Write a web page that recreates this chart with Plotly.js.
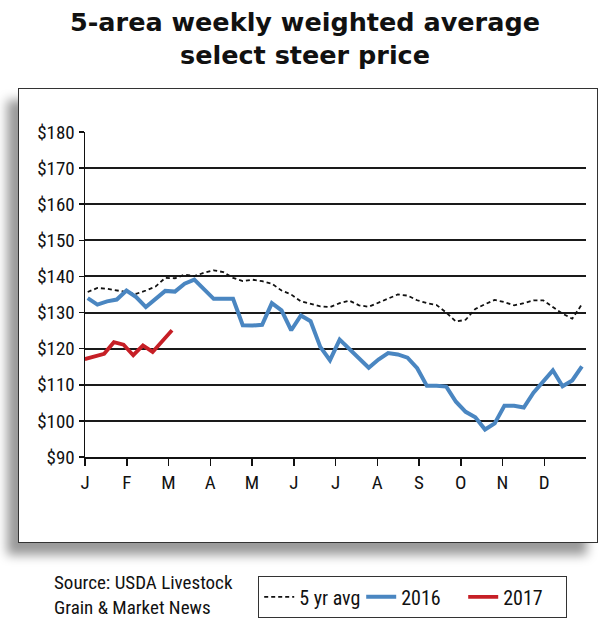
<!DOCTYPE html>
<html>
<head>
<meta charset="utf-8">
<script src="https://cdn.plot.ly/plotly-3.0.1.min.js"></script>
<style>
  html, body { margin: 0; padding: 0; background: #fff; }
  #frame { position: absolute; left: 18px; top: 88px; width: 578px; height: 453px;
           border: 1.5px solid #333; background: #fff;
           box-shadow: -11px 12px 10px rgba(0,0,0,0.4); }
  #chart { position: absolute; left: 0; top: 0; width: 610px; height: 630px; }
</style>
</head>
<body>
<div id="frame"></div>
<div id="chart"></div>
<script>
// Week numbers (2016 weekly observations)
const weeks2016 = [1,2,3,4,5,6,7,8,9,10,11,12,13,14,15,16,17,18,19,20,21,22,23,24,25,26,
                   27,28,29,30,31,32,33,34,35,36,37,38,39,40,41,42,43,44,45,46,47,48,49,50,51,52];
const weeks2017 = [0.7,1.7,2.7,3.7,4.7,5.7,6.7,7.7,8.7,9.7];

// 5-year average ($/cwt)
const avg5yr = [135.7,136.8,136.6,136.1,135.7,135.2,136.1,137.2,139.6,139.5,140.5,140.1,141.0,141.7,141.2,139.6,
                138.7,139.1,138.7,138.0,136.1,135.0,133.1,132.4,131.7,131.5,132.6,133.3,132.0,131.6,132.7,133.9,
                135.0,134.7,133.4,132.6,132.1,130.0,127.5,128.0,131.0,132.3,133.5,132.9,132.0,132.6,133.4,133.4,
                131.5,129.7,128.3,132.3];
// 2016 ($/cwt)
const price2016 = [134.0,132.2,133.1,133.6,136.1,134.3,131.5,133.8,136.0,135.8,138.0,139.1,136.3,133.8,133.8,133.8,
                   126.5,126.4,126.6,132.6,130.6,125.1,129.2,127.6,120.5,116.8,122.5,120.0,117.2,114.7,117.0,118.8,
                   118.4,117.5,114.6,109.7,109.7,109.5,105.3,102.5,101.0,97.6,99.3,104.2,104.2,103.7,107.8,110.9,
                   114.0,109.6,111.2,115.1];
// 2017 ($/cwt)
const price2017 = [117.1,117.9,118.6,121.8,121.1,118.2,120.9,119.1,122.1,125.1];

const monthLabels = ['J','F','M','A','M','J','J','A','S','O','N','D'];
const yTicks = [90,100,110,120,130,140,150,160,170,180];

const xStart = 0.721, xEnd = 52.42;
const monthPos = monthLabels.map((m, i) => xStart + i * (xEnd - xStart) / 12);

const narrow = '"Liberation Sans Narrow", "Arial Narrow", "Roboto Condensed", Arial, sans-serif';

const traces = [
  { x: weeks2016, y: avg5yr, name: '5 yr avg', type: 'scatter', mode: 'lines',
    line: { color: '#111', width: 1.8, dash: '4px,3px' } },
  { x: weeks2016, y: price2016, name: '2016', type: 'scatter', mode: 'lines',
    line: { color: '#4a86c1', width: 4 } },
  { x: weeks2017, y: price2017, name: '2017', type: 'scatter', mode: 'lines',
    line: { color: '#c61f26', width: 3.8 } }
];

const layout = {
  width: 610, height: 630,
  margin: { l: 85, r: 24, t: 131.6, b: 173.2, pad: 0, autoexpand: false },
  paper_bgcolor: 'rgba(0,0,0,0)',
  plot_bgcolor: 'rgba(0,0,0,0)',
  showlegend: true,
  title: {
    text: '5-area weekly weighted average<br>select steer price',
    font: { family: '"DejaVu Sans", sans-serif', size: 25.5, color: '#111', weight: 'bold' },
    x: 0.5, xref: 'container', xanchor: 'center',
    y: 1 - 31 / 630, yref: 'container', yanchor: 'middle'
  },
  xaxis: {
    range: [xStart, xEnd],
    tickmode: 'array', tickvals: monthPos, ticktext: monthLabels,
    showgrid: false, zeroline: false,
    showline: true, linecolor: '#111', linewidth: 2,
    ticks: 'outside', ticklen: 7, tickwidth: 1.5, tickcolor: '#111',
    tickfont: { family: narrow, size: 19, color: '#111' },
    fixedrange: true
  },
  yaxis: {
    range: [90, 180],
    tickmode: 'array', tickvals: yTicks, ticktext: yTicks.map(v => '$' + v),
    showgrid: true, gridcolor: '#1a1a1a', gridwidth: 2,
    zeroline: false,
    showline: true, linecolor: '#111', linewidth: 1.5,
    ticks: 'outside', ticklen: 5, tickwidth: 1.5, tickcolor: '#111',
    tickfont: { family: narrow, size: 19, color: '#111' },
    fixedrange: true
  },
  legend: {
    orientation: 'h',
    x: (258 - 85) / 501, xanchor: 'left',
    y: (456.8 - 576) / 325.2, yanchor: 'top',
    bordercolor: '#333', borderwidth: 1.2, bgcolor: '#fff',
    font: { family: narrow, size: 20, color: '#111' },
    entrywidth: 57, entrywidthmode: 'pixels',
    traceorder: 'normal'
  },
  annotations: [
    { text: 'Source: USDA Livestock<br>Grain & Market News', xref: 'paper', yref: 'paper',
      x: (52 - 85) / 501, y: (456.8 - 595) / 325.2, xanchor: 'left', yanchor: 'middle', align: 'left',
      showarrow: false, font: { family: narrow, size: 19, color: '#111' } }
  ]
};

Plotly.newPlot('chart', traces, layout, { displayModeBar: false, staticPlot: true });
</script>
</body>
</html>
